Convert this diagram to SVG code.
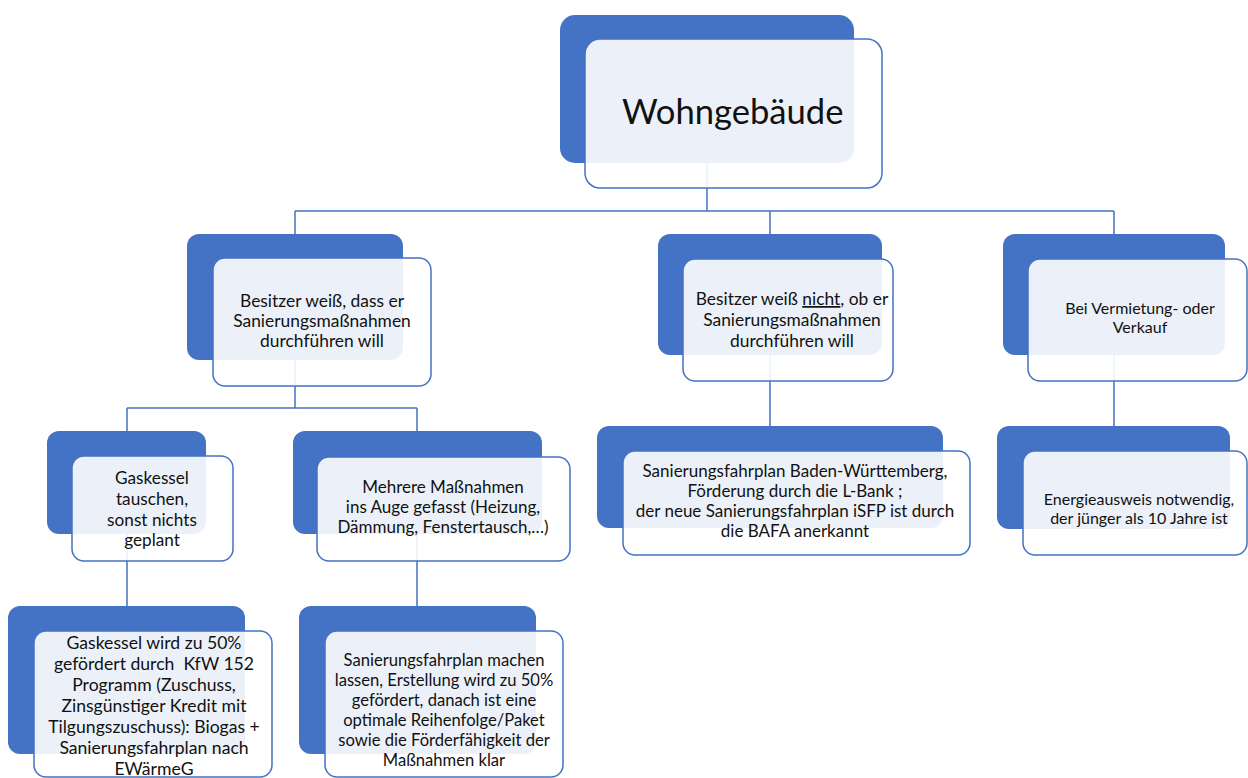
<svg xmlns="http://www.w3.org/2000/svg" width="1248" height="778" viewBox="0 0 1248 778">
<style>
.back{fill:#4472C4;}
.front{fill:#ffffff;fill-opacity:0.9;stroke:#4472C4;stroke-width:1.5;}
.conn{fill:none;stroke:#4472C4;stroke-width:1.5;}
text{font-family:Lato,"Liberation Sans",sans-serif;fill:#111;text-anchor:middle;}
.a{font-size:17.4px;}
.c{font-size:16px;}
.d{font-size:17.2px;}
.e{font-size:17px;}
.f{font-size:17.6px;}
.g{font-size:16.6px;}
.h{font-size:17px;}
.root{font-size:34.6px;text-anchor:start;}
</style>
<rect width="1248" height="778" fill="#ffffff"/>
<g id="connectors">
<path class="conn" d="M707,163 V211 M295,211 H1114 M295,211 V234 M770,211 V234 M1114,211 V234"/>
<path class="conn" d="M295,360 V408 M127,408 H417 M127,408 V431 M417,408 V431"/>
<path class="conn" d="M127,534 V606 M417,534 V606 M770,355 V426 M1114,355 V426"/>
</g>
<g id="root">
<rect class="back" x="560" y="15" width="294" height="148" rx="15"/>
<rect class="front" x="585" y="39" width="297" height="149" rx="15"/>
<text class="root" x="622" y="124">Wohngebäude</text>
</g>
<g id="node-besitzer-weiss">
<rect class="back" x="187" y="234" width="216" height="126" rx="12"/>
<rect class="front" x="213" y="258" width="218" height="128" rx="12"/>
<text class="a" x="322" y="307">Besitzer weiß, dass er</text>
<text class="a" x="322" y="327">Sanierungsmaßnahmen</text>
<text class="a" x="322" y="347">durchführen will</text>
</g>
<g id="node-besitzer-weiss-nicht">
<rect class="back" x="658" y="234" width="224" height="121" rx="12"/>
<rect class="front" x="683" y="259" width="210" height="122" rx="12"/>
<text class="a" x="792" y="305">Besitzer weiß <tspan text-decoration="underline">nicht</tspan>, ob er</text>
<text class="a" x="792" y="326">Sanierungsmaßnahmen</text>
<text class="a" x="792" y="347">durchführen will</text>
</g>
<g id="node-vermietung">
<rect class="back" x="1003" y="234" width="222" height="121" rx="12"/>
<rect class="front" x="1028" y="259" width="219" height="122" rx="12"/>
<text class="c" x="1140" y="314">Bei Vermietung- oder</text>
<text class="c" x="1140" y="333">Verkauf</text>
</g>
<g id="node-gaskessel">
<rect class="back" x="47" y="431" width="159" height="103" rx="12"/>
<rect class="front" x="72" y="456" width="161" height="105" rx="12"/>
<text class="d" x="152" y="484">Gaskessel</text>
<text class="d" x="152" y="505">tauschen,</text>
<text class="d" x="152" y="526">sonst nichts</text>
<text class="d" x="152" y="546">geplant</text>
</g>
<g id="node-mehrere">
<rect class="back" x="293" y="431" width="249" height="103" rx="12"/>
<rect class="front" x="317" y="457" width="253" height="104" rx="12"/>
<text class="e" x="443" y="493">Mehrere Maßnahmen</text>
<text class="e" x="443" y="513">ins Auge gefasst (Heizung,</text>
<text class="e" x="443" y="533">Dämmung, Fenstertausch,…)</text>
</g>
<g id="node-kfw">
<rect class="back" x="8" y="606" width="237" height="148" rx="12"/>
<rect class="front" x="34" y="631" width="238" height="146" rx="12"/>
<text class="f" x="154" y="649">Gaskessel wird zu 50%</text>
<text class="f" x="154" y="670" xml:space="preserve">gefördert durch  KfW 152</text>
<text class="f" x="154" y="691">Programm (Zuschuss,</text>
<text class="f" x="154" y="712">Zinsgünstiger Kredit mit</text>
<text class="f" x="154" y="733">Tilgungszuschuss): Biogas +</text>
<text class="f" x="154" y="754">Sanierungsfahrplan nach</text>
<text class="f" x="154" y="775">EWärmeG</text>
</g>
<g id="node-fahrplan">
<rect class="back" x="299" y="606" width="237" height="148" rx="12"/>
<rect class="front" x="325" y="631" width="238" height="146" rx="12"/>
<text class="g" x="444" y="666">Sanierungsfahrplan machen</text>
<text class="g" x="444" y="686">lassen, Erstellung wird zu 50%</text>
<text class="g" x="444" y="706">gefördert, danach ist eine</text>
<text class="g" x="444" y="726">optimale Reihenfolge/Paket</text>
<text class="g" x="444" y="746">sowie die Förderfähigkeit der</text>
<text class="g" x="444" y="766">Maßnahmen klar</text>
</g>
<g id="node-bw">
<rect class="back" x="597" y="426" width="346" height="102" rx="12"/>
<rect class="front" x="623" y="451" width="347" height="104" rx="12"/>
<text class="h" x="795" y="477">Sanierungsfahrplan Baden-Württemberg,</text>
<text class="h" x="795" y="497">Förderung durch die L-Bank ;</text>
<text class="h" x="795" y="517">der neue Sanierungsfahrplan iSFP ist durch</text>
<text class="h" x="795" y="537">die BAFA anerkannt</text>
</g>
<g id="node-energieausweis">
<rect class="back" x="997" y="426" width="233" height="103" rx="12"/>
<rect class="front" x="1023" y="451" width="224" height="104" rx="12"/>
<text class="c" x="1139" y="505">Energieausweis notwendig,</text>
<text class="c" x="1139" y="524">der jünger als 10 Jahre ist</text>
</g>
</svg>
